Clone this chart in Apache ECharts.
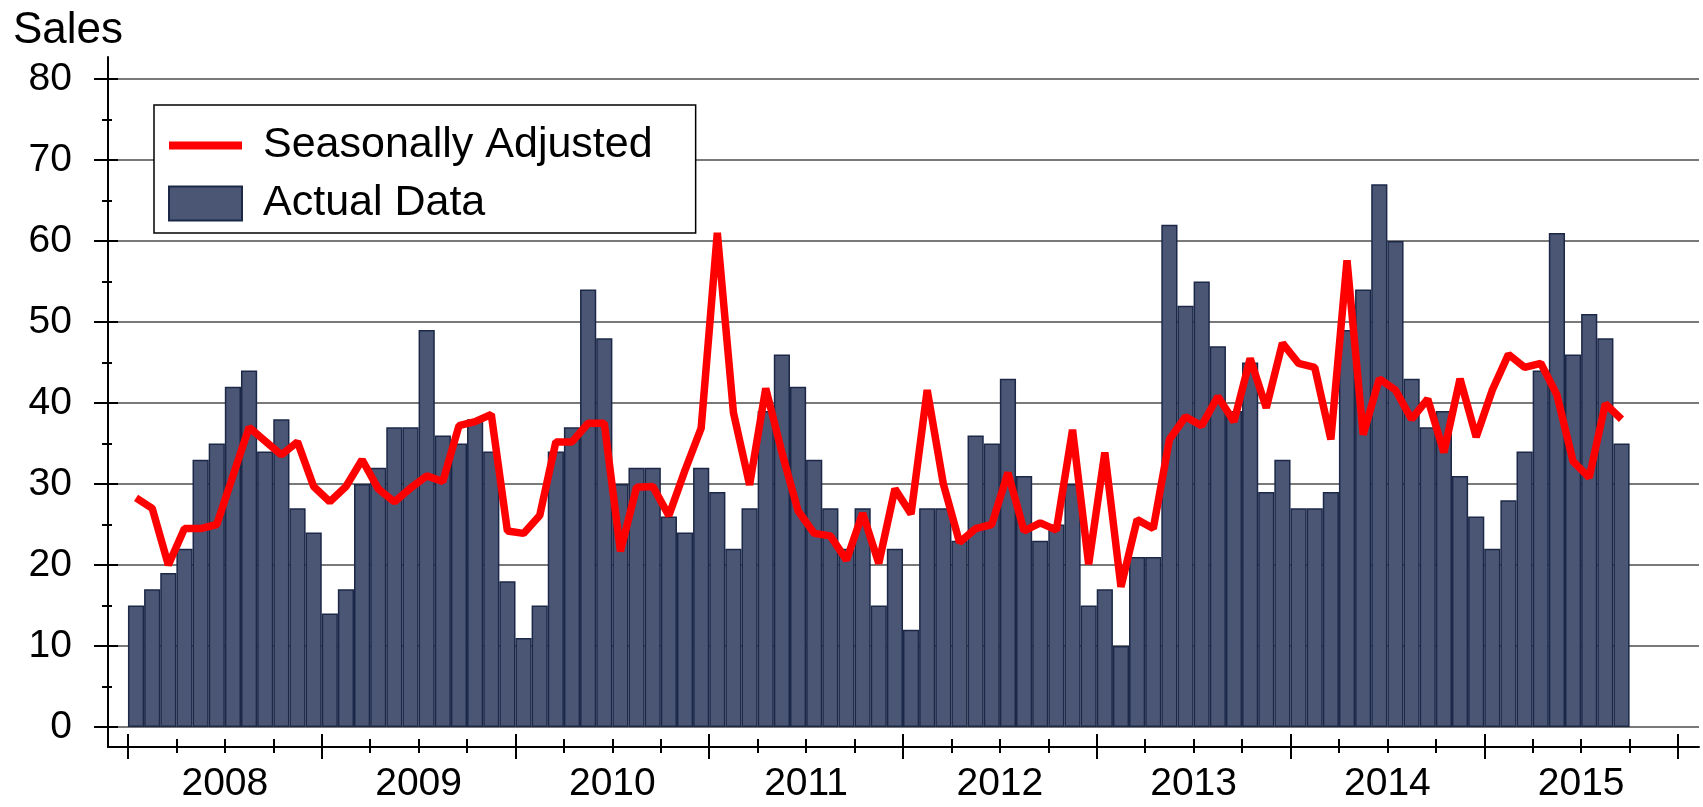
<!DOCTYPE html>
<html>
<head>
<meta charset="utf-8">
<script src="https://cdn.jsdelivr.net/npm/echarts@6/dist/echarts.min.js"></script>
<style>
html, body { margin: 0; padding: 0; background: #fff; }
#chart { width: 1703px; height: 807px; }
</style>
</head>
<body>
<div id="chart"></div>
<script>
var years = ['2008', '2009', '2010', '2011', '2012', '2013', '2014', '2015'];

// monthly sales, Jan 2008 .. Sep 2015
var actual = [
    15, 17, 19, 22, 33, 35, 42, 44, 34, 38, 27, 24,
    14, 17, 30, 32, 37, 37, 49, 36, 35, 38, 34, 18,
    11, 15, 34, 37, 54, 48, 30, 32, 32, 26, 24, 32,
    29, 22, 27, 39, 46, 42, 33, 27, 22, 27, 15, 22,
    12, 27, 27, 23, 36, 35, 43, 31, 23, 25, 30, 15,
    17, 10, 21, 21, 62, 52, 55, 47, 39, 45, 29, 33,
    27, 27, 29, 49, 54, 67, 60, 43, 37, 39, 31, 26,
    22, 28, 34, 44, 61, 46, 51, 48, 35
];

var adjusted = [
    28.3, 27, 20, 24.5, 24.5, 25, 31, 37, 35.3, 33.6, 35.2, 29.7,
    27.8, 29.7, 33, 29.4, 27.8, 29.5, 31, 30.3, 37.2, 37.7, 38.6, 24.2,
    23.9, 26.1, 35.2, 35.2, 37.5, 37.5, 21.7, 29.6, 29.7, 26.1, 31.7, 36.9,
    61, 38.8, 29.9, 41.8, 33.9, 26.7, 23.9, 23.6, 20.6, 26.4, 20.2, 29.4,
    26.3, 41.6, 30, 22.8, 24.5, 25, 31.4, 24.2, 25.2, 24.3, 36.7, 20.1,
    33.9, 17.3, 25.6, 24.5, 35.5, 38.3, 37.2, 40.8, 37.7, 45.5, 39.4, 47.4,
    44.9, 44.4, 35.5, 57.6, 36.1, 43, 41.6, 38, 40.5, 33.9, 43, 35.8,
    41.6, 46, 44.4, 44.9, 41, 32.8, 30.8, 39.9, 38
];

var yTicks = [0, 10, 20, 30, 40, 50, 60, 70, 80];
var yMinorTicks = [5, 15, 25, 35, 45, 55, 65, 75];

var FONT = 'Liberation Sans, Arial, sans-serif';

// year boundaries, quarter ticks and mid-year label positions (in months)
var yearTicks = [];
var quarterTicks = [];
var yearLabelPos = [];
for (var i = 0; i <= years.length; i++) {
    yearTicks.push(i * 12);
    if (i < years.length) {
        quarterTicks.push(i * 12 + 3, i * 12 + 6, i * 12 + 9);
        yearLabelPos.push(i * 12 + 6);
    }
}

var barData = actual.map(function (v, i) { return [i + 0.5, v]; });
var lineData = adjusted.map(function (v, i) { return [i + 0.5, v]; });

// extra axis that only draws ticks (used for crossing / minor ticks)
function tickAxis(range, values, len, inside) {
    return {
        type: 'value',
        min: range.min,
        max: range.max,
        position: range.position,
        axisLine: { show: false, onZero: false },
        axisTick: {
            show: true, inside: inside, length: len, customValues: values,
            lineStyle: { color: '#000', width: 2 }
        },
        axisLabel: { show: false },
        splitLine: { show: false }
    };
}

var chart = echarts.init(document.getElementById('chart'), null, { renderer: 'canvas' });

var xr = { min: -1.237, max: 97.3, position: 'bottom' };
var yr = { min: -2.47, max: 82.72, position: 'left' };

var option = {
    animation: false,
    backgroundColor: '#fff',
    title: {
        text: 'Sales',
        left: 13,
        top: 9,
        padding: 0,
        textStyle: { fontSize: 44, fontWeight: 'normal', color: '#000', fontFamily: FONT }
    },
    legend: {
        orient: 'vertical',
        left: 154,
        top: 105,
        padding: [19, 43, 8, 14],
        itemWidth: 73,
        itemHeight: 34,
        itemGap: 15,
        borderColor: '#000',
        borderWidth: 1.5,
        backgroundColor: '#fff',
        textStyle: { fontSize: 43, color: '#000', fontFamily: FONT, padding: [0, 0, 0, 16] },
        data: [
            { name: 'Seasonally Adjusted', icon: 'path://M0,0H73V8H0Z' },
            { name: 'Actual Data', icon: 'rect' }
        ]
    },
    grid: {
        left: 108,
        right: 4,
        top: 57,
        bottom: 60
    },
    xAxis: [
        {
            type: 'value',
            min: xr.min,
            max: xr.max,
            position: 'bottom',
            axisLine: { show: true, onZero: false, lineStyle: { color: '#000', width: 2 } },
            axisTick: {
                show: true, inside: false, length: 12, customValues: yearTicks,
                lineStyle: { color: '#000', width: 2 }
            },
            axisLabel: {
                customValues: yearLabelPos,
                margin: 18,
                fontSize: 39,
                color: '#000',
                fontFamily: FONT,
                formatter: function (v) { return years[Math.round((v - 6) / 12)]; }
            },
            splitLine: { show: false }
        },
        tickAxis(xr, yearTicks, 13, true),
        tickAxis(xr, quarterTicks, 6, false),
        tickAxis(xr, quarterTicks, 8, true)
    ],
    yAxis: [
        {
            type: 'value',
            min: yr.min,
            max: yr.max,
            position: 'left',
            axisLine: { show: true, onZero: false, lineStyle: { color: '#000', width: 2 } },
            axisTick: {
                show: true, inside: false, length: 14, customValues: yTicks,
                lineStyle: { color: '#000', width: 2 }
            },
            axisLabel: {
                customValues: yTicks,
                margin: 36,
                fontSize: 39,
                color: '#000',
                fontFamily: FONT
            },
            splitLine: { show: true, lineStyle: { color: '#4d4d4d', width: 1.5 } }
        },
        tickAxis(yr, yTicks, 10, true),
        tickAxis(yr, yMinorTicks, 6, false),
        tickAxis(yr, yMinorTicks, 4, true)
    ],
    series: [
        {
            name: 'Actual Data',
            type: 'bar',
            data: barData,
            barWidth: 16.2,
            itemStyle: { color: '#4b5675', borderColor: '#1c2848', borderWidth: 1.5 }
        },
        {
            name: 'Seasonally Adjusted',
            type: 'line',
            data: lineData,
            symbol: 'none',
            color: '#ff0000',
            itemStyle: { color: '#ff0000' },
            lineStyle: { color: '#ff0000', width: 7.5 }
        }
    ]
};

chart.setOption(option);
</script>
</body>
</html>
